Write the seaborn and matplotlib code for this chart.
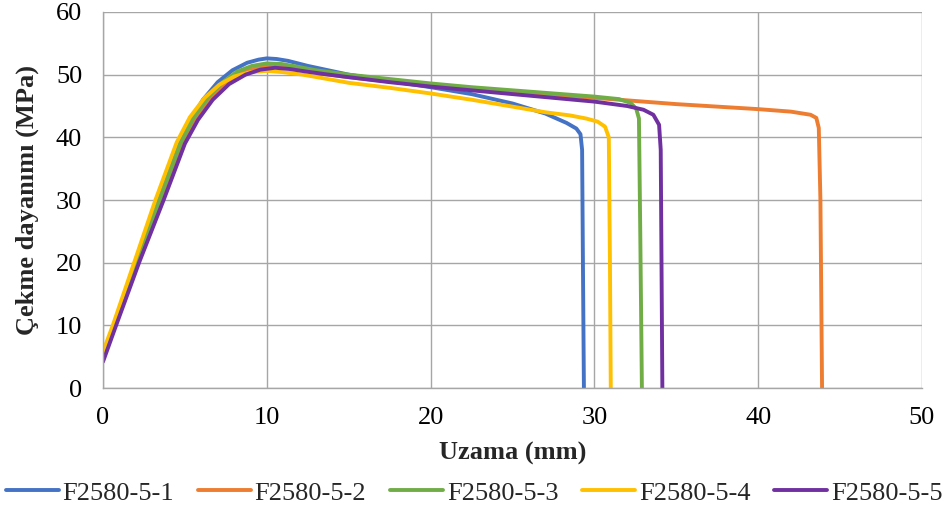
import matplotlib
matplotlib.use("Agg")
import matplotlib.pyplot as plt
import seaborn as sns
import pandas as pd

# Tensile test curves: elongation (mm) vs tensile strength (MPa)
names = ["F2580-5-1", "F2580-5-2", "F2580-5-3", "F2580-5-4", "F2580-5-5"]

x_1 = [0, 0.65, 2.0, 3.35, 4.5, 5.3, 6.1, 7.0, 7.9, 8.8, 9.5, 10.0, 10.6, 11.3, 12.5,
       15, 17.5, 20, 22.5, 25, 27, 28.3, 28.9, 29.15, 29.25, 29.3, 29.36]
y_1 = [5.0, 10.0, 20.0, 30.0, 38.0, 42.5, 46.0, 48.8, 50.7, 51.9, 52.4, 52.6, 52.5,
       52.2, 51.4, 50.0, 49.0, 48.0, 46.9, 45.4, 43.8, 42.3, 41.4, 40.5, 38.0, 20.0, 0.0]

x_2 = [0, 0.7, 2.1, 3.5, 4.8, 5.6, 6.5, 7.4, 8.4, 9.4, 10.3, 11.2, 12.2, 13.5, 15,
       17.5, 20, 22.5, 25, 27.5, 30, 32.5, 35, 37.5, 40, 42, 43.2, 43.55, 43.7, 43.8,
       43.9]
y_2 = [4.8, 10.0, 20.0, 30.0, 39.0, 43.0, 46.2, 48.5, 50.2, 51.1, 51.4, 51.2, 50.7,
       50.1, 49.6, 48.9, 48.3, 47.7, 47.2, 46.7, 46.3, 45.8, 45.3, 44.9, 44.5, 44.1,
       43.6, 43.1, 41.5, 30.0, 0.0]

x_3 = [0, 0.7, 2.05, 3.45, 4.7, 5.5, 6.4, 7.3, 8.2, 9.1, 10.0, 10.9, 11.8, 13.0, 15,
       17.5, 20, 22.5, 25, 27.5, 30, 31.5, 32.2, 32.55, 32.72, 32.8, 32.9]
y_3 = [5.0, 10.0, 20.0, 30.0, 38.8, 43.0, 46.3, 48.8, 50.5, 51.4, 51.8, 51.7, 51.3,
       50.7, 50.0, 49.3, 48.6, 48.0, 47.5, 47.0, 46.5, 46.1, 45.5, 44.6, 43.0, 25.0, 0.0]

x_4 = [0, 0.6, 1.9, 3.2, 4.5, 5.3, 6.2, 7.1, 8.0, 9.0, 10.0, 11.0, 12.2, 13.5, 15,
       17.5, 20, 22.5, 25, 27, 28.5, 29.5, 30.2, 30.65, 30.88, 30.95, 31.0]
y_4 = [5.8, 10.0, 20.0, 30.0, 39.2, 43.2, 46.3, 48.4, 49.7, 50.4, 50.6, 50.4, 50.0,
       49.4, 48.7, 47.9, 47.0, 46.0, 44.9, 44.0, 43.5, 43.0, 42.5, 41.7, 40.0, 20.0, 0.0]

x_5 = [0, 0.8, 2.2, 3.7, 5.0, 5.8, 6.7, 7.7, 8.7, 9.6, 10.5, 11.4, 12.4, 13.5, 15,
       17.5, 20, 22.5, 25, 27.5, 30, 32, 33.0, 33.6, 33.95, 34.05, 34.15]
y_5 = [4.2, 10.0, 20.0, 30.0, 39.0, 42.8, 46.0, 48.5, 50.0, 50.8, 51.1, 50.9, 50.5,
       50.1, 49.6, 48.8, 48.1, 47.5, 46.9, 46.3, 45.7, 45.0, 44.4, 43.6, 42.0, 38.0, 0.0]

x_ticks = [0, 10, 20, 30, 40, 50]
y_ticks = [0, 10, 20, 30, 40, 50, 60]

colors = ["#4472C4", "#ED7D31", "#70AD47", "#FFC000", "#7030A0"]

frames = []
for name, xs, ys in zip(names, [x_1, x_2, x_3, x_4, x_5], [y_1, y_2, y_3, y_4, y_5]):
    frames.append(pd.DataFrame({"Uzama": xs, "Dayanim": ys, "Numune": name}))
df = pd.concat(frames, ignore_index=True)

sns.set_theme(style="white")
plt.rcParams["font.family"] = ["Liberation Serif", "DejaVu Serif"]

fig = plt.figure(figsize=(9.46, 5.15), dpi=100)
ax = fig.add_axes([0.1089, 0.2466, 0.8657, 0.7301])

sns.lineplot(data=df, x="Uzama", y="Dayanim", hue="Numune", hue_order=names,
             palette=colors, sort=False, estimator=None, units="Numune",
             linewidth=2.8, ax=ax, legend=True)
for line in ax.get_lines():
    line.set_solid_joinstyle("round")
    line.set_solid_capstyle("round")

ax.set_xlim(0, 50)
ax.set_ylim(0, 60)
ax.set_xticks(x_ticks)
ax.set_yticks(y_ticks)
ax.tick_params(axis="both", length=0, labelsize=19, colors="black")
ax.tick_params(axis="x", pad=14)
ax.tick_params(axis="y", pad=15)
ax.grid(True, color="#a6a6a6", linewidth=1.0)
for side in ["left", "bottom"]:
    ax.spines[side].set_color("#a6a6a6")
    ax.spines[side].set_linewidth(1.0)
for side in ["top", "right"]:
    ax.spines[side].set_visible(False)

ax.set_xlabel("Uzama (mm)", fontsize=19, fontweight="bold", labelpad=9)
ax.set_ylabel("Çekme dayanımı (MPa)", fontsize=19, fontweight="bold", labelpad=12)

ax.legend(loc="upper center", bbox_to_anchor=(0.453, -0.248), ncol=5,
          frameon=False, fontsize=19, handlelength=2.0, handletextpad=0.15,
          columnspacing=0.9, borderaxespad=0, borderpad=0)
for h in ax.get_legend().get_lines():
    h.set_linewidth(2.8)

fig.savefig("out.png", dpi=100)
